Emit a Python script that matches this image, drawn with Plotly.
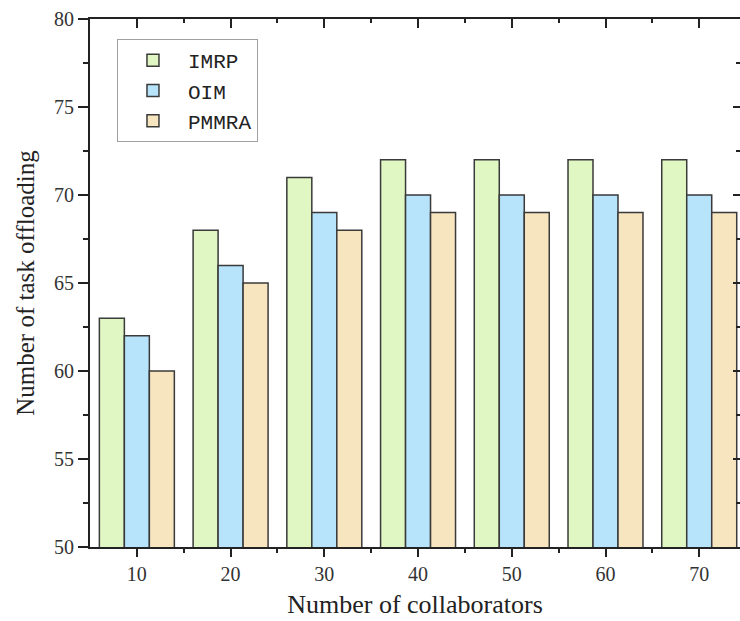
import plotly.graph_objects as go

collaborators = [10, 20, 30, 40, 50, 60, 70]
imrp = [63, 68, 71, 72, 72, 72, 72]
oim = [62, 66, 69, 70, 70, 70, 70]
pmmra = [60, 65, 68, 69, 69, 69, 69]

series = [
    ("IMRP", imrp, "#E1F7C3"),
    ("OIM", oim, "#B7E3FB"),
    ("PMMRA", pmmra, "#F7E5C0"),
]

fig = go.Figure()
for name, vals, col in series:
    fig.add_trace(go.Bar(
        x=collaborators, y=vals, name=name,
        marker=dict(color=col, line=dict(color="#3a3a3a", width=1.5)),
    ))

# empty helper trace so that the mirrored top/right axes are drawn
fig.add_trace(go.Scatter(x=[None], y=[None], xaxis="x2", yaxis="y2",
                         showlegend=False, hoverinfo="skip", mode="markers"))

xr = [5, 74.35]
yr = [50, 80]
axis_col = "#222222"
tick_font = dict(family="Liberation Serif", size=20, color="#333333")
title_font = dict(family="Liberation Serif", size=26, color="#222222")

fig.update_layout(
    width=740, height=621,
    margin=dict(l=90, r=0, t=19, b=74),
    paper_bgcolor="white", plot_bgcolor="white",
    barmode="group", bargap=0.2, bargroupgap=0,
    showlegend=True,
    legend=dict(
        x=0.0415, y=0.962, xanchor="left", yanchor="top",
        bgcolor="white", bordercolor="#a0a0a0", borderwidth=1,
        font=dict(family="Liberation Mono", size=21, color="#222222"),
        itemwidth=60, tracegroupgap=0,
    ),
    xaxis=dict(
        range=xr, tickvals=collaborators, ticktext=[str(c) for c in collaborators],
        showline=True, linecolor=axis_col, linewidth=2,
        ticks="outside", ticklen=8, tickwidth=2, tickcolor=axis_col,
        minor=dict(tickvals=[15, 25, 35, 45, 55, 65], ticks="outside", ticklen=4, tickwidth=2, tickcolor=axis_col, showgrid=False),
        showgrid=False, zeroline=False, tickfont=tick_font,
        title=dict(text="Number of collaborators", font=title_font, standoff=11),
    ),
    yaxis=dict(
        range=yr, tickmode="linear", tick0=50, dtick=5,
        showline=True, linecolor=axis_col, linewidth=2,
        ticks="outside", ticklen=10, tickwidth=2, tickcolor=axis_col,
        minor=dict(dtick=2.5, tick0=50, ticks="outside", ticklen=5, tickwidth=2, tickcolor=axis_col, showgrid=False),
        showgrid=False, zeroline=False, tickfont=tick_font,
        title=dict(text="Number of task offloading", font=dict(family="Liberation Serif", size=25, color="#222222"), standoff=12),
    ),
    xaxis2=dict(
        overlaying="x", side="top", anchor="y2", range=xr,
        tickvals=collaborators, showticklabels=False,
        showline=True, linecolor=axis_col, linewidth=2,
        ticks="inside", ticklen=9, tickwidth=2, tickcolor=axis_col,
        minor=dict(tickvals=[15, 25, 35, 45, 55, 65], ticks="inside", ticklen=4, tickwidth=2, tickcolor=axis_col, showgrid=False),
        showgrid=False, zeroline=False,
    ),
    yaxis2=dict(
        overlaying="y", side="right", anchor="x2", range=yr,
        tickmode="linear", tick0=50, dtick=5, showticklabels=False,
        showline=False,
        ticks="inside", ticklen=7, tickwidth=2, tickcolor=axis_col,
        minor=dict(dtick=2.5, tick0=50, ticks="inside", ticklen=4, tickwidth=2, tickcolor=axis_col, showgrid=False),
        showgrid=False, zeroline=False,
    ),
)

fig.write_html("out.html")
